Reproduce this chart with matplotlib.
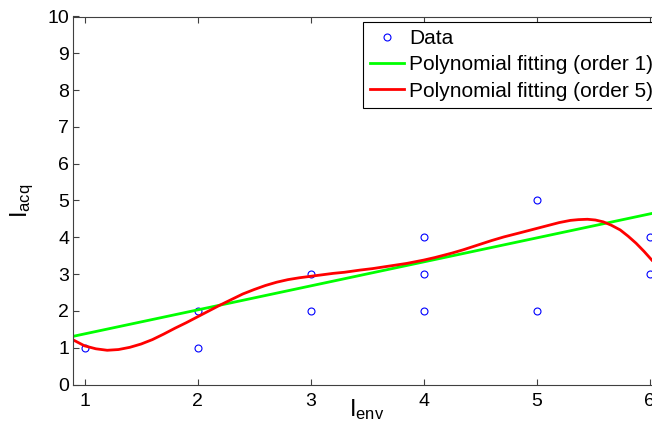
import matplotlib
matplotlib.use("Agg")
import matplotlib.pyplot as plt

plt.rcParams['font.family'] = ['Liberation Sans', 'DejaVu Sans']
plt.rcParams['mathtext.fontset'] = 'custom'
plt.rcParams['mathtext.rm'] = 'Liberation Sans'
plt.rcParams['mathtext.it'] = 'Liberation Sans'

# measured points
env = [1, 2, 2, 3, 3, 4, 4, 4, 5, 5, 6, 6]
acq = [1, 2, 1, 3, 2, 4, 3, 2, 5, 2, 4, 3]

# order 1 fit
fit1_x = [0.9, 6.1]
fit1_y = [1.31, 4.70]

# order 5 fit
fit5_x = [0.90, 1.00, 1.10, 1.20, 1.30, 1.40, 1.50, 1.60, 1.70, 1.80,
          1.90, 2.00, 2.10, 2.20, 2.30, 2.40, 2.50, 2.60, 2.70, 2.80,
          2.90, 3.00, 3.10, 3.20, 3.30, 3.44, 3.55, 3.70, 3.85, 4.00,
          4.10, 4.25, 4.35, 4.50, 4.60, 4.71, 4.85, 5.00, 5.10, 5.20,
          5.30, 5.37, 5.45, 5.52, 5.59, 5.66, 5.74, 5.81, 5.88, 5.95,
          6.02]
fit5_y = [1.21, 1.05, 0.97, 0.93, 0.95, 1.01, 1.10, 1.22, 1.37, 1.53,
          1.68, 1.84, 2.00, 2.16, 2.31, 2.46, 2.58, 2.69, 2.78, 2.85,
          2.90, 2.94, 2.98, 3.02, 3.05, 3.11, 3.15, 3.22, 3.29, 3.38,
          3.45, 3.57, 3.66, 3.81, 3.91, 4.01, 4.12, 4.24, 4.32, 4.40,
          4.46, 4.48, 4.49, 4.47, 4.42, 4.33, 4.20, 4.03, 3.84, 3.62,
          3.38]

xticks = [1, 2, 3, 4, 5, 6]
yticks = list(range(0, 11))

fig = plt.figure(figsize=(6.52, 4.25), dpi=100)
ax = fig.add_axes([73.3 / 652, 1 - 384.5 / 425, 587.6 / 652, 368 / 425])

ax.plot(env, acq, 'o', color='#0000ff', mfc='none', ms=5, mew=0.8, label='Data')
ax.plot(fit1_x, fit1_y, color='#00ff00', lw=2, label='Polynomial fitting (order 1)')
ax.plot(fit5_x, fit5_y, color='#ff0000', lw=2, label='Polynomial fitting (order 5)')

ax.set_xlim(0.9, 6.1)
ax.set_ylim(0, 10)
ax.set_xticks(xticks)
ax.set_yticks(yticks)
ax.tick_params(direction='in', length=4, width=0.8, color='#404040',
               labelsize=14, top=True, right=True)
ax.tick_params(axis='x', pad=6)
ax.tick_params(axis='y', pad=3)
for s in ax.spines.values():
    s.set_color('#404040')
    s.set_linewidth(0.8)

ax.set_xlabel(r'$\mathrm{I}_{\mathrm{env}}$', fontsize=17, labelpad=-9)
ax.set_ylabel(r'$\mathrm{I}_{\mathrm{acq}}$', fontsize=17, labelpad=8)

leg = ax.legend(loc='upper left', bbox_to_anchor=(362.7 / 652, 1 - 22.3 / 425),
                bbox_transform=fig.transFigure, fontsize=15, numpoints=1,
                fancybox=False, framealpha=1, edgecolor='black',
                borderpad=0.33, labelspacing=0.35, handlelength=1.65,
                handletextpad=0.25, borderaxespad=0)
leg.get_frame().set_linewidth(0.8)

fig.savefig('out.png', dpi=100)
